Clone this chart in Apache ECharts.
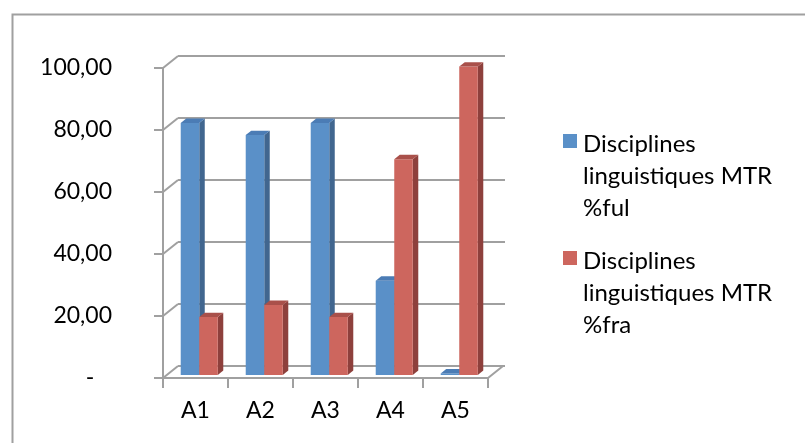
<!DOCTYPE html>
<html>
<head>
<meta charset="utf-8">
<script src="https://cdn.jsdelivr.net/npm/echarts@6/dist/echarts.min.js"></script>
<style>html,body{margin:0;padding:0;background:#fff;}#c{width:805px;height:443px;}</style>
</head>
<body>
<div id="c"></div>
<script>
const categories = ['A1', 'A2', 'A3', 'A4', 'A5'];
const seriesNames = ['Disciplines\nlinguistiques MTR\n%ful', 'Disciplines\nlinguistiques MTR\n%fra'];
const fulValues = [81.3, 77.4, 81.3, 30.4, 0.5];
const fraValues = [18.7, 22.6, 18.7, 69.6, 99.5];
const yTicks = [0, 20, 40, 60, 80, 100];

const FONT = 'Lato';
const GRID_COLOR = '#a0a0a0';
const palettes = [
  { front: '#5a90c8', side: '#41668f', top: '#4b7cb5' },
  { front: '#cd665e', side: '#8e403c', top: '#a9504a' }
];
const BACK_DX = 15, BACK_DY = -12;
const OX = 3.75, OY = -3;
const SDX = 5.5, SDY = -4.4;

function barRender(s) {
  return function (params, api) {
    const i = api.value(0), v = api.value(1);
    const base = api.coord([i, 0]);
    const top = api.coord([i, v]);
    const bw = api.size([1, 0])[0];
    const w = bw * 0.285;
    const x0 = base[0] - w + s * w + OX;
    const x1 = x0 + w;
    const yb = base[1] + OY;
    const yt = top[1] + OY;
    const p = palettes[s];
    return {
      type: 'group',
      children: [
        { type: 'polygon', shape: { points: [[x1, yt], [x1 + SDX, yt + SDY], [x1 + SDX, yb + SDY], [x1, yb]] }, style: { fill: p.side } },
        { type: 'rect', shape: { x: x0, y: yt, width: w, height: yb - yt }, style: { fill: p.front } },
        { type: 'polygon', shape: { points: [[x0, yt], [x0 + SDX, yt + SDY], [x1 + SDX, yt + SDY], [x1, yt]] }, style: { fill: p.top } }
      ]
    };
  };
}

function frameRender(params, api) {
  const v = api.value(0);
  const cs = params.coordSys;
  const p = api.coord([0, v]);
  const children = [
    { type: 'line', shape: { x1: cs.x, y1: p[1], x2: cs.x + BACK_DX, y2: p[1] + BACK_DY }, style: { stroke: GRID_COLOR, lineWidth: 2 } }
  ];
  if (v === 0) {
    children.push({ type: 'line', shape: { x1: cs.x + cs.width, y1: p[1], x2: cs.x + cs.width + BACK_DX, y2: p[1] + BACK_DY }, style: { stroke: GRID_COLOR, lineWidth: 2 } });
  }
  return { type: 'group', children: children };
}

const chart = echarts.init(document.getElementById('c'));
const legendY = [134, 251];
const legendGraphics = [];
seriesNames.forEach(function (n, k) {
  legendGraphics.push({ type: 'rect', left: 563, top: legendY[k], shape: { width: 14, height: 14 }, style: { fill: palettes[k].front } });
  legendGraphics.push({ type: 'text', left: 583, top: legendY[k] - 6, style: { text: n, font: '24px ' + FONT, lineHeight: 32, fill: '#000' } });
});

chart.setOption({
  animation: false,
  backgroundColor: '#fff',
  grid: [
    { left: 163, top: 68, width: 325, height: 310 },
    { left: 163 + BACK_DX, top: 68 + BACK_DY, width: 327, height: 310 }
  ],
  xAxis: [
    { type: 'category', gridIndex: 0, data: categories,
      axisLine: { show: true, lineStyle: { color: GRID_COLOR, width: 2 } },
      axisTick: { show: true, length: 10, interval: 0, lineStyle: { color: GRID_COLOR, width: 2 } },
      axisLabel: { color: '#000', fontFamily: FONT, fontSize: 23, margin: 21 } },
    { type: 'category', gridIndex: 1, data: categories, show: false }
  ],
  yAxis: [
    { type: 'value', gridIndex: 0, min: 0, max: 100, interval: 20,
      axisLine: { show: true, lineStyle: { color: GRID_COLOR, width: 2 } },
      axisTick: { show: true, length: 9, lineStyle: { color: GRID_COLOR, width: 2 } },
      splitLine: { show: false },
      axisLabel: { color: '#000', fontFamily: FONT, fontSize: 23, margin: 51,
        formatter: function (v) { return v === 0 ? '-   ' : v.toFixed(2).replace('.', ','); } } },
    { type: 'value', gridIndex: 1, min: 0, max: 100, interval: 20,
      axisLine: { show: false }, axisTick: { show: false }, axisLabel: { show: false },
      splitLine: { show: true, lineStyle: { color: GRID_COLOR, width: 2 } } }
  ],
  graphic: [
    { type: 'rect', left: 10, top: 12, shape: { width: 830, height: 480 }, style: { fill: 'none', stroke: '#a0a0a0', lineWidth: 2 }, z: 100 }
  ].concat(legendGraphics),
  series: [
    { type: 'custom', name: 'frame', xAxisIndex: 0, yAxisIndex: 0, data: yTicks.map(function (v) { return [v]; }), renderItem: frameRender, silent: true, z: 1 },
    { type: 'custom', name: seriesNames[0], xAxisIndex: 0, yAxisIndex: 0, data: fulValues.map(function (v, i) { return [i, v]; }), encode: { x: 0, y: 1 }, renderItem: barRender(0), z: 2 },
    { type: 'custom', name: seriesNames[1], xAxisIndex: 0, yAxisIndex: 0, data: fraValues.map(function (v, i) { return [i, v]; }), encode: { x: 0, y: 1 }, renderItem: barRender(1), z: 3 }
  ]
});
</script>
</body>
</html>
